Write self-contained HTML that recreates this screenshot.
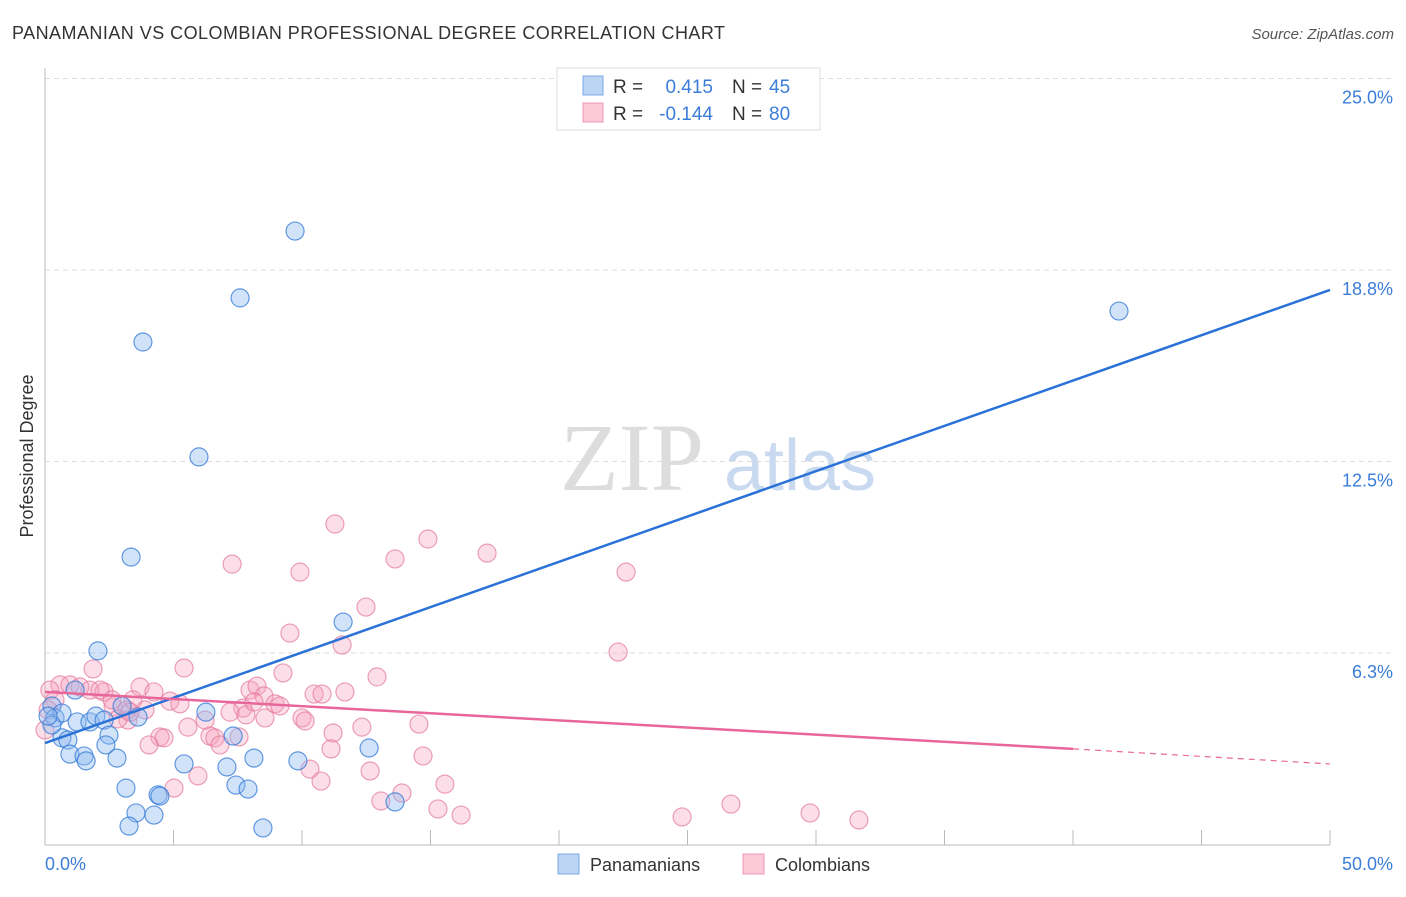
<!DOCTYPE html>
<html><head><meta charset="utf-8"><style>
body{margin:0;background:#fff;font-family:"Liberation Sans",sans-serif}
</style></head><body>
<svg width="1406" height="892" xmlns="http://www.w3.org/2000/svg" style="font-family:'Liberation Sans',sans-serif">
<text x="12" y="39" font-size="18" fill="#333" textLength="713">PANAMANIAN VS COLOMBIAN PROFESSIONAL DEGREE CORRELATION CHART</text>
<text x="1394" y="39" font-size="15" fill="#555" font-style="italic" text-anchor="end">Source: ZipAtlas.com</text>
<text x="632" y="490" font-size="96" fill="#ddd" font-family="Liberation Serif" text-anchor="middle">ZIP</text>
<text x="800" y="490" font-size="72" fill="#c9daf0" text-anchor="middle">atlas</text>
<g id="grid"></g>
<g id="axes"></g>
<g id="pts"></g>
<g id="lines"></g>
<text transform="translate(33,456) rotate(-90)" font-size="18" fill="#333" text-anchor="middle">Professional Degree</text>
<text x="45" y="870" font-size="18" fill="#3b7dd8">0.0%</text>
<text x="1393" y="870" font-size="18" fill="#3b7dd8" text-anchor="end">50.0%</text>
<g>
<rect x="557" y="68" width="263" height="62" fill="#fff" stroke="#ddd"/>
<rect x="583" y="76" width="20" height="19" fill="#bcd5f5" stroke="#7aa7e6"/>
<rect x="583" y="103" width="20" height="19" fill="#fbc9d8" stroke="#eb98b2"/>
<text x="613" y="93" font-size="19" fill="#333">R =</text><text x="713" y="93" font-size="19" fill="#3b7dd8" text-anchor="end">0.415</text>
<text x="732" y="93" font-size="19" fill="#333">N =</text><text x="769" y="93" font-size="19" fill="#3b7dd8">45</text>
<text x="613" y="120" font-size="19" fill="#333">R =</text><text x="713" y="120" font-size="19" fill="#3b7dd8" text-anchor="end">-0.144</text>
<text x="732" y="120" font-size="19" fill="#333">N =</text><text x="769" y="120" font-size="19" fill="#3b7dd8">80</text>
</g>
<g>
<rect x="558" y="854" width="21" height="20" fill="#bcd5f5" stroke="#7aa7e6"/>
<text x="590" y="871" font-size="18" fill="#333">Panamanians</text>
<rect x="743" y="854" width="21" height="20" fill="#fbc9d8" stroke="#eb98b2"/>
<text x="775" y="871" font-size="18" fill="#333">Colombians</text>
</g>
</svg>
<script>
const yTicks=[6.25,12.5,18.75,25];
const yTickLabels=["6.3%","12.5%","18.8%","25.0%"];
const xTicks=[5,10,15,20,25,30,35,40,45,50];
const bluePx=[[295,231],[240,298],[143,342],[1119,311],[199,457],[131,557],[343,622],[98,651],[52,706],[55,718],[62,713],[77,722],[90,722],[96,716],[104,720],[122,706],[138,717],[109,735],[62,738],[68,740],[70,754],[84,756],[86,761],[106,745],[117,758],[206,712],[233,736],[184,764],[254,758],[227,767],[298,761],[369,748],[126,788],[158,795],[160,796],[236,785],[248,789],[136,813],[154,815],[129,826],[263,828],[395,802],[52,725],[48,716],[75,690]];
const pinkPx=[[335,524],[428,539],[487,553],[232,564],[300,572],[395,559],[626,572],[366,607],[290,633],[342,645],[618,652],[93,669],[184,668],[283,673],[377,677],[60,685],[70,685],[80,687],[90,690],[50,690],[104,692],[140,687],[154,692],[250,690],[257,686],[264,696],[314,694],[322,694],[345,692],[170,701],[180,704],[275,704],[280,706],[113,707],[127,710],[145,710],[243,708],[230,712],[246,715],[302,718],[305,721],[205,720],[188,727],[128,720],[118,719],[419,724],[362,727],[333,733],[210,736],[215,738],[220,745],[160,737],[164,738],[149,745],[239,737],[423,756],[331,749],[198,776],[310,769],[321,781],[370,771],[445,784],[174,788],[402,793],[381,801],[438,809],[461,815],[682,817],[731,804],[810,813],[859,820],[55,700],[48,710],[45,730],[100,690],[112,700],[133,700],[254,702],[265,718],[130,712]];
const blueX=bluePx.map(p=>+((p[0]-45)/25.7).toFixed(2));
const blueY=bluePx.map(p=>+((844.5-p[1])/30.64).toFixed(2));
const pinkX=pinkPx.map(p=>+((p[0]-45)/25.7).toFixed(2));
const pinkY=pinkPx.map(p=>+((844.5-p[1])/30.64).toFixed(2));
const blueTrend=[[0,3.31],[50,18.1]];
const pinkTrend=[[0,4.98],[40,3.12],[50,2.63]];
const X=v=>45+v*25.7, Y=v=>844.5-v*30.64;
const NS="http://www.w3.org/2000/svg";
function mk(t,a,p){const e=document.createElementNS(NS,t);for(const k in a)e.setAttribute(k,a[k]);document.getElementById(p).appendChild(e);return e;}
yTicks.forEach((t,i)=>{
 const g=mk('line',{x1:45,x2:1395,y1:Y(t),y2:Y(t),stroke:'#ddd','stroke-dasharray':'5,4'},'grid');
 
 
 const l=mk('text',{x:1393,y:Y(t)+25,'font-size':18,fill:'#3b7dd8','text-anchor':'end'},'grid');
 l.textContent=yTickLabels[i];
 
 
});
const ax=mk('line',{x1:45,x2:45,y1:68,y2:845,stroke:'#bbb'},'axes');


const bx=mk('line',{x1:45,x2:1330,y1:845,y2:845,stroke:'#bbb'},'axes');


xTicks.forEach(t=>{const e=mk('line',{x1:X(t),x2:X(t),y1:830,y2:845,stroke:'#bbb'},'axes');
 
 });
pinkX.forEach((x,i)=>{const c=mk('circle',{cx:X(x),cy:Y(pinkY[i]),r:9,fill:'rgba(246,160,188,0.35)',stroke:'rgba(228,120,155,0.7)','stroke-width':1.2},'pts');
 
 });
blueX.forEach((x,i)=>{const c=mk('circle',{cx:X(x),cy:Y(blueY[i]),r:9,fill:'rgba(140,185,240,0.4)',stroke:'rgba(50,120,215,0.75)','stroke-width':1.2},'pts');
 
 });
const bl=mk('line',{x1:X(blueTrend[0][0]),y1:Y(blueTrend[0][1]),x2:X(blueTrend[1][0]),y2:Y(blueTrend[1][1]),stroke:'#2a72d8','stroke-width':2.5},'lines');


const pl=mk('line',{x1:X(pinkTrend[0][0]),y1:Y(pinkTrend[0][1]),x2:X(pinkTrend[1][0]),y2:Y(pinkTrend[1][1]),stroke:'#e8679a','stroke-width':2.5},'lines');


const pd=mk('line',{x1:X(pinkTrend[1][0]),y1:Y(pinkTrend[1][1]),x2:X(pinkTrend[2][0]),y2:Y(pinkTrend[2][1]),stroke:'#e8679a','stroke-width':1.2,'stroke-dasharray':'6,5'},'lines');


</script>
</body></html>
